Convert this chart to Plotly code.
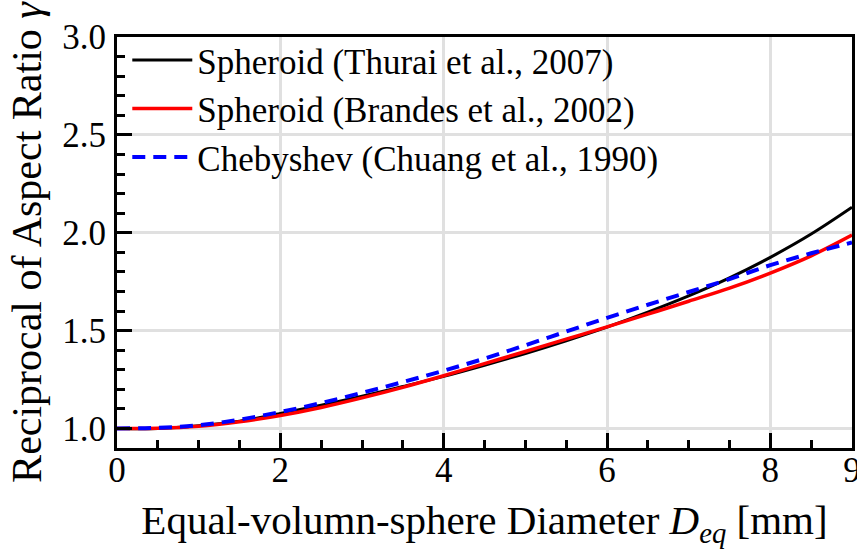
import plotly.graph_objects as go

# Equal-volume-sphere diameter (mm)
diameter = [0.0, 0.5, 1.0, 1.5, 2.0, 2.5, 3.0, 3.5, 4.0, 4.5, 5.0, 5.5, 6.0, 6.5, 7.0, 7.5, 8.0, 8.5, 9.0]

# Reciprocal of aspect ratio
thurai_2007 = [1.000, 1.000, 1.014, 1.037, 1.076, 1.118, 1.164, 1.214, 1.266, 1.323, 1.383, 1.448, 1.518, 1.594, 1.677, 1.769, 1.874, 1.993, 2.130]
brandes_2002 = [1.000, 1.001, 1.011, 1.034, 1.066, 1.107, 1.156, 1.210, 1.269, 1.331, 1.393, 1.456, 1.519, 1.584, 1.650, 1.717, 1.794, 1.882, 1.988]
chuang_1990 = [1.000, 1.003, 1.016, 1.045, 1.084, 1.130, 1.182, 1.237, 1.295, 1.357, 1.425, 1.495, 1.565, 1.632, 1.697, 1.763, 1.834, 1.895, 1.950]

names = ["Spheroid (Thurai et al., 2007)", "Spheroid (Brandes et al., 2002)", "Chebyshev (Chuang et al., 1990)"]

x_ticks = [0, 2, 4, 6, 8, 9]
x_tick_text = ["0", "2", "4", "6", "8", "9"]
y_ticks = [1.0, 1.5, 2.0, 2.5, 3.0]
y_tick_text = ["1.0", "1.5", "2.0", "2.5", "3.0"]

FONT = "Liberation Serif"

fig = go.Figure()
fig.add_trace(go.Scatter(x=diameter, y=thurai_2007, mode="lines", name=names[0],
                         line=dict(color="black", width=3, shape="spline")))
fig.add_trace(go.Scatter(x=diameter, y=brandes_2002, mode="lines", name=names[1],
                         line=dict(color="#ff0000", width=3.5, shape="spline")))
fig.add_trace(go.Scatter(x=diameter, y=chuang_1990, mode="lines", name=names[2],
                         line=dict(color="#0000ff", width=4, dash="13px,8px", shape="spline")))

axis_common = dict(
    showline=True, linecolor="black", linewidth=3, mirror=True,
    showgrid=True, gridcolor="#e0e0e0", gridwidth=2.5,
    ticks="inside", ticklen=15, tickwidth=3, tickcolor="black",
    zeroline=False, automargin=False, ticklabeloverflow="allow",
    tickfont=dict(family=FONT, size=35, color="black"),
)

fig.update_layout(
    width=857, height=549,
    margin=dict(l=117, r=5, t=37, b=101),
    paper_bgcolor="white", plot_bgcolor="white",
    font=dict(family=FONT, color="black"),
    showlegend=True,
    legend=dict(x=0.014, y=1.015, xanchor="left", yanchor="top",
                bgcolor="rgba(255,255,255,0)", borderwidth=0,
                font=dict(family=FONT, size=35, color="black"),
                tracegroupgap=0, itemwidth=60),
    xaxis=dict(axis_common, range=[0, 9], tickvals=x_ticks, ticktext=x_tick_text,
               ticklabelstandoff=-11,
               minor=dict(dtick=0.5, ticks="inside", ticklen=8, tickwidth=3, tickcolor="black", showgrid=False),
               title=dict(text="Equal-volumn-sphere Diameter <i>D</i><sub><i>eq</i></sub> [mm]",
                          font=dict(family=FONT, size=41, color="black"), standoff=30)),
    yaxis=dict(axis_common, range=[0.9, 3.0], tickvals=y_ticks, ticktext=y_tick_text,
               ticklabelstandoff=1,
               minor=dict(dtick=0.1, tick0=0.9, ticks="inside", ticklen=8, tickwidth=3, tickcolor="black", showgrid=False),
               title=dict(text="Reciprocal of Aspect Ratio <i>γ</i>",
                          font=dict(family=FONT, size=42, color="black"), standoff=8)),
)

fig.write_html("out.html", config={"displayModeBar": False},
               post_script="document.body.style.margin='0px';document.body.style.overflow='hidden';")
